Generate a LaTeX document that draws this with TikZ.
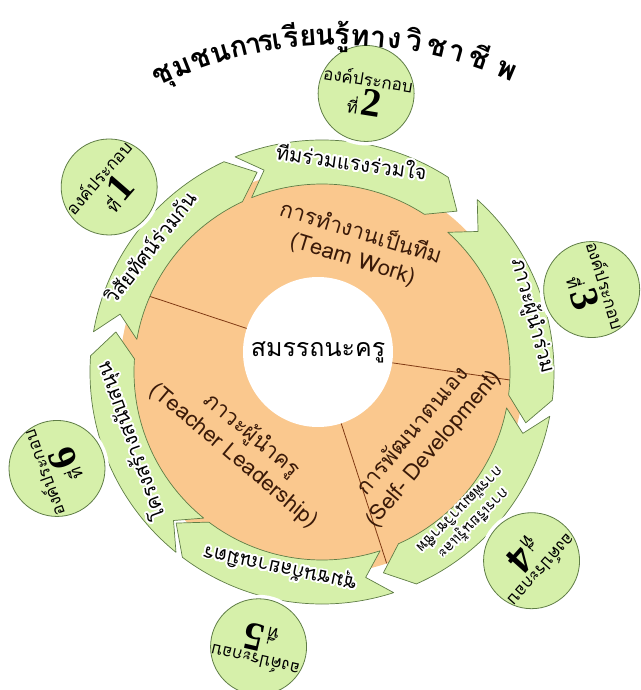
\documentclass[tikz,border=0pt]{standalone}
\usepackage{fontspec}
\usepackage{contour}
\usetikzlibrary{calc}
\newfontfamily\thai[Script=Thai]{Loma}
\newfontfamily\numfont{Liberation Serif}
\contourlength{1.8pt}
\contournumber{24}

\definecolor{ringgreen}{RGB}{214,240,170}
\definecolor{ringline}{RGB}{95,125,70}
\definecolor{coreorange}{RGB}{250,200,142}
\definecolor{splitbrown}{RGB}{128,58,20}

\tikzset{
	piece/.style={fill=ringgreen, draw=ringline, line width=0.7pt, line join=round},
	partcircle/.style={circle, fill=ringgreen, draw=ringline, line width=0.8pt, minimum size=96pt, inner sep=0pt},
	parttext/.style={align=center, inner sep=0pt, font=\thai\fontsize{17}{19}\selectfont},
	ringtext/.style={inner sep=0pt, font=\thai\fontsize{20}{22}\selectfont},
	coretext/.style={align=center, inner sep=0pt, text=splitbrown!45!black, font=\thai\fontsize{22}{27}\selectfont},
	titlechar/.style={inner sep=0pt, anchor=base, font=\thai\bfseries\fontsize{29}{29}\selectfont}
}

\newcommand{\ringpiece}[1]{%
	\pgfmathsetmacro\ta{#1+31}
	\pgfmathsetmacro\tn{#1+25}
	\pgfmathsetmacro\tb{#1-24}
	\pgfmathsetmacro\tt{#1-31}
	\draw[piece] (\ta:232) arc[start angle=\ta, end angle=\tb, radius=232]
		-- (\tt:210) -- (\tb:188) arc[start angle=\tb, end angle=\ta, radius=188]
		-- (\tn:210) -- cycle;
}

\begin{document}
\begin{tikzpicture}[x=1pt,y=1pt]
	\useasboundingbox (-322,-318) rectangle (318,372);
	\coordinate (O) at (0,0);
	\coordinate (core) at (-4,20);
	\coordinate (arcc) at (18,-91);
	
	% orange core and sectors
	\fill[coreorange] (O) circle (202);
	\begin{scope}
		\clip (O) circle (202);
		\foreach \a in {161.7,-8.3,-72}{
			\draw[splitbrown, line width=0.8pt] ($(core)+(\a:75)$) -- ($(core)+(\a:260)$);}
	\end{scope}
	
	% ring of arrows
	\foreach \ang in {139,81,17,-42,-103,-160}{
		\ringpiece{\ang}}
	
	\fill[white] (core) circle (75);
	\node[coretext, text=black, font=\thai\fontsize{25}{27}\selectfont] (center) at (core) {สมรรถนะครู};
	
	\node[coretext, rotate=-17] (teamwork) at (35,127) {การทำงานเป็นทีม\\(Team Work)};
	\node[coretext, rotate=-40] (leader) at (-79,-73) {ภาวะผู้นำครู\\(Teacher Leadership)};
	\node[coretext, rotate=50] (selfdev) at (101,-68) {การพัฒนาตนเอง\\(Self- Development)};
	
	% component circles
	\foreach \k/\ang in {1/139,2/81,3/17,4/-42,5/-103,6/-160}{
		\fill[white] (\ang:282) circle (52);
		\node[partcircle] (c\k) at (\ang:282) {};
		\pgfmathsetmacro\rot{\ang-90}
		\node[parttext, rotate=\rot] (t\k) at (c\k) {องค์ประกอบ\\[2pt]ที่\,{\numfont\bfseries\fontsize{40}{40}\selectfont\k}};
	}
	
	% ring labels
	\foreach \k/\ang/\dist/\rot/\txt in {1/144/212/52/วิสัยทัศน์ร่วมกัน,2/82/212/-8/ทีมร่วมแรงร่วมใจ,3/15/217/-75/ภาวะผู้นำร่วม,5/-102/199/168/ชุมชนกัลยาณมิตร,6/-160/202/110/โครงสร้างสนับสนุน}{
		\node[ringtext, rotate=\rot] (l\k) at (\ang:\dist) {\contour{white}{\txt}};}
	\node[ringtext, rotate=225, align=center, font=\thai\fontsize{15}{18}\selectfont] (l4) at (-45:205) {\contour{white}{การเรียนรู้และ}\\\contour{white}{การพัฒนาวิชาชีพ}};
	
	% title, one cluster at a time along the arc
	\foreach \ch/\px [count=\i] in {ชุ/162,ม/182,ช/201,น/220,ก/239,า/253,ร/265,เ/277,รี/291,ย/308,น/325,รู้/342,ท/361,า/379,ง/395,วิ/414,ช/437,า/457,ชี/479,พ/507}{
		\pgfmathsetmacro\phi{acos((\px-340)/428)}
		\pgfmathsetmacro\rot{\phi-90}
		\node[titlechar, rotate=\rot] (title\i) at ($(arcc)+(\phi:418)$) {\ch};}
\end{tikzpicture}
\end{document}
